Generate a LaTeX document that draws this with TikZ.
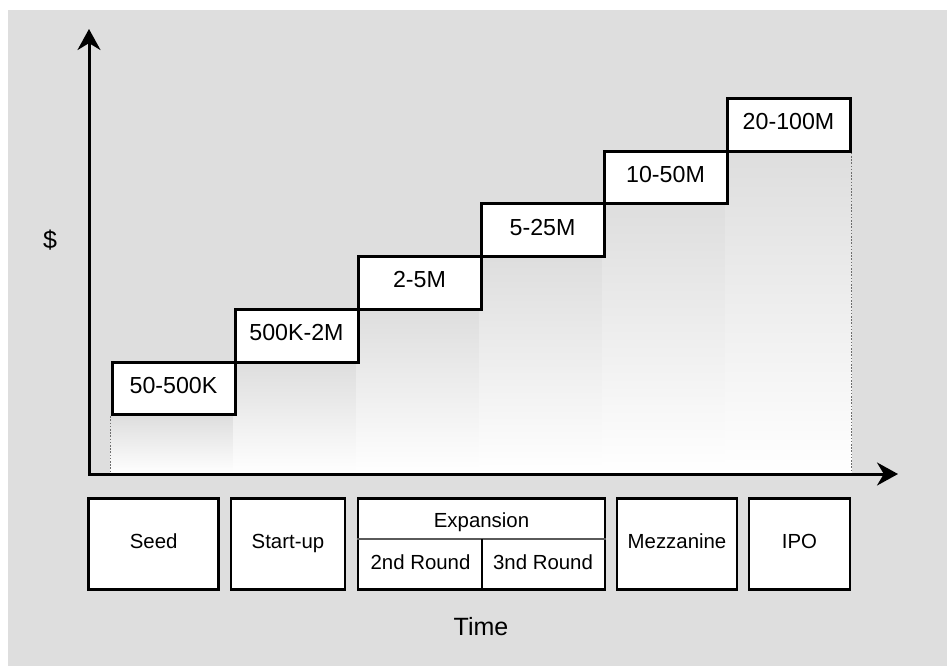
\documentclass[tikz,border=0pt]{standalone}
\usepackage{fontspec}
\setmainfont{Liberation Sans}
\usetikzlibrary{arrows.meta,backgrounds,calc}
\definecolor{panelgray}{RGB}{222, 222, 222}
\definecolor{guidegray}{RGB}{110, 110, 110}
\definecolor{rulegray}{RGB}{90, 90, 90}

\tikzset{
  stepbox/.style   = {draw=black, fill=white, line width=1.5pt, inner sep=0pt,
                      minimum width=61.5pt, minimum height=26.35pt,
                      text height=0.75em, text depth=0.27em, font=\fontsize{11.6}{13}\selectfont},
  stagebox/.style  = {draw=black, fill=white, line width=1.3pt, inner sep=0pt, minimum height=45.5pt,
                      text height=0.75em, text depth=0.27em, font=\fontsize{10.2}{12}\selectfont},
  stagetext/.style = {inner sep=0pt, text height=0.75em, text depth=0.27em, font=\fontsize{10.2}{12}\selectfont},
  guide/.style     = {guidegray, line width=0.5pt, dash pattern=on 0.8pt off 0.8pt},
  axisline/.style  = {line width=1.5pt, line join=miter,
                      {Stealth[length=10.5pt,width=11.5pt]}-{Stealth[length=10.5pt,width=11.5pt]}},
  axislabel/.style = {inner sep=0pt, font=\fontsize{12.5}{14}\selectfont}
}

\begin{document}
\begin{tikzpicture}[x=0.5pt, y=-0.5pt]
    \useasboundingbox (0,0) rectangle (947,666);
    \coordinate (origin) at ( 89,474);
    \coordinate (ytip)   at ( 89, 29);
    \coordinate (xtip)   at (898,474);

    \foreach \amount [count=\i from 0] in {50-500K, 500K-2M, 2-5M, 5-25M, 10-50M, 20-100M}
        \node[stepbox] (step\i) at ({173.5+123*\i}, {388.35-52.7*\i}) {\amount};

    \begin{scope}[on background layer]
        \fill[white]     (0,0)  rectangle (947,666);
        \fill[panelgray] (8,10) rectangle (947,666);
        \foreach \i in {0,...,5} {
            \shade[top color=panelgray, bottom color=white] (step\i.south west) rectangle (step\i.south east |- origin);
            \draw[guide] (step\i.south east) -- (step\i.south east |- origin);
        }
        \draw[guide] (step0.south west) -- (step0.south west |- origin);
    \end{scope}

    \draw[axisline] (xtip) -- (origin) -- (ytip);
    \node[axislabel] (dollar) at ( 50,240) {\$};
    \node[axislabel] (time)   at (481,627) {Time};

    \node[stagebox, minimum width=65pt]    (seed)      at (153.7,544) {Seed};
    \node[stagebox, minimum width=57pt]    (startup)   at (288.0,544) {Start-up};
    \node[stagebox, minimum width=123.5pt] (expansion) at (481.5,544) {};
    \node[stagebox, minimum width=60pt]    (mezzanine) at (677.0,544) {Mezzanine};
    \node[stagebox, minimum width=50.5pt]  (ipo)       at (799.5,544) {IPO};

    \coordinate (split) at ($(expansion.north west)!0.45!(expansion.south west)$);
    \draw[rulegray, line width=1pt] (split) -- (split -| expansion.east);
    \draw[line width=1pt] (split -| expansion.center) -- (expansion.south);
    \node[stagetext] (expname) at (481.5,522.2) {Expansion};
    \node[stagetext] (round2)  at (420.5,565.1) {2nd Round};
    \node[stagetext] (round3)  at (543.0,565.1) {3nd Round};
\end{tikzpicture}
\end{document}
